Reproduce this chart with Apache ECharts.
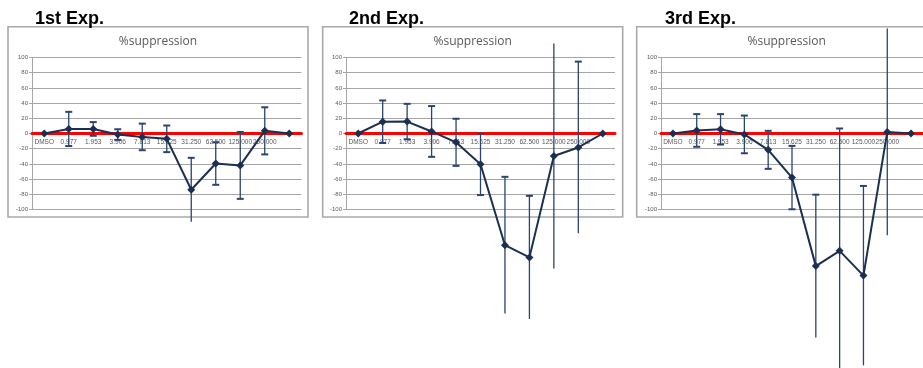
<!DOCTYPE html>
<html>
<head>
<meta charset="utf-8">
<script src="https://cdn.jsdelivr.net/npm/echarts@6/dist/echarts.min.js"></script>
<style>
  html, body { margin: 0; padding: 0; background: #ffffff; }
  #chart { width: 923px; height: 368px; }
</style>
</head>
<body>
<div id="chart"></div>
<script>
// Concentration categories (last slot is an unlabeled control point)
const categories = ['DMSO', '0.977', '1.953', '3.906', '7.813', '15.625', '31.250', '62.500', '125.000', '250.000', ''];

// Y axis ticks
const yTicks = { min: -100, max: 100, step: 20 };

// Panel headings
const expTitles = ['1st Exp.', '2nd Exp.', '3rd Exp.'];
const chartTitle = '%suppression';

// Mean % suppression and symmetric error for each experiment
const exp1Mean = [0, 6, 6, -1.4, -4.5, -7, -74, -39.5, -42, 3.5, 0];
const exp1Err  = [0, 22.5, 9, 7, 17.5, 17.5, 42, 28, 44, 31, 0];

const exp2Mean = [0, 15.5, 15.7, 2.7, -11.6, -40.5, -147, -163, -29.6, -18.4, 0];
const exp2Err  = [0, 28, 23.3, 33.4, 31, 40.5, 90, 81, 148, 113, 0];

const exp3Mean = [0, 4, 5.5, -1.2, -21.5, -58, -174.5, -154.4, -187, 2.1, 0];
const exp3Err  = [0, 21.5, 20, 24.8, 25, 41.7, 94, 161, 118, 136, 0];

const experiments = [
  { mean: exp1Mean, err: exp1Err },
  { mean: exp2Mean, err: exp2Err },
  { mean: exp3Mean, err: exp3Err }
];

// Layout of the three panels (frame box and plot area)
const panels = [
  { boxX: 8,     boxW: 300, gridLeft: 32,  gridW: 269.5, headX: 35 },
  { boxX: 322.7, boxW: 300, gridLeft: 346, gridW: 269,   headX: 349 },
  { boxX: 636.7, boxW: 300, gridLeft: 661, gridW: 266,   headX: 665 }
];
const boxTop = 26.7, boxH = 190.3;
const gridTop = 57.5, gridH = 152;

const lineColor = '#1a2f52';
const errColor = '#2a4470';
const textGray = '#595959';

const grids = [], xAxes = [], yAxes = [], series = [], graphics = [];

panels.forEach((p, i) => {
  graphics.push({
    type: 'rect',
    shape: { x: p.boxX, y: boxTop, width: p.boxW, height: boxH },
    style: { fill: '#ffffff', stroke: '#a9a9a9', lineWidth: 1.6 },
    z: -10
  });
  graphics.push({
    type: 'text',
    style: {
      text: expTitles[i], x: p.headX, y: 19,
      textVerticalAlign: 'middle',
      font: 'bold 18px "Liberation Sans", Arial, sans-serif',
      fill: '#000000'
    }
  });
  graphics.push({
    type: 'text',
    style: {
      text: chartTitle, x: p.boxX + p.boxW / 2, y: 42,
      textAlign: 'center', textVerticalAlign: 'middle',
      font: '12px "Open Sans", sans-serif',
      fill: textGray
    }
  });

  grids.push({ left: p.gridLeft, top: gridTop, width: p.gridW, height: gridH, containLabel: false });

  // the category axis sits on the zero line, which is the middle of the symmetric range
  xAxes.push({
    type: 'category',
    gridIndex: i,
    data: categories,
    boundaryGap: true,
    position: 'bottom',
    offset: -gridH / 2,
    axisLine: { onZero: false, lineStyle: { color: '#ff0000', width: 3 } },
    axisTick: { show: false },
    axisLabel: { color: textGray, fontSize: 6.5, margin: 5, interval: 0, fontFamily: '"Liberation Sans", Arial, sans-serif' },
    splitLine: { show: false },
    z: 1
  });

  yAxes.push({
    type: 'value',
    gridIndex: i,
    min: yTicks.min, max: yTicks.max, interval: yTicks.step,
    axisLine: { show: true, lineStyle: { color: '#a6a6a6', width: 1 } },
    axisTick: { show: true, length: 3, lineStyle: { color: '#a6a6a6' } },
    axisLabel: { color: textGray, fontSize: 6, margin: 4, fontFamily: '"Liberation Sans", Arial, sans-serif' },
    splitLine: { show: true, lineStyle: { color: '#a6a6a6', width: 1 } }
  });

  const exp = experiments[i];
  const errData = exp.mean.map((m, k) => [k, m - exp.err[k], m + exp.err[k], exp.err[k]]);

  series.push({
    type: 'custom',
    xAxisIndex: i,
    yAxisIndex: i,
    clip: false,
    z: 3,
    silent: true,
    data: errData,
    encode: { x: 0, y: [1, 2] },
    renderItem: function (params, api) {
      const e = api.value(3);
      if (!e) return null;
      const k = api.value(0);
      const lo = api.value(1), hi = api.value(2);
      const pLo = api.coord([k, lo]);
      const pHi = api.coord([k, hi]);
      const capW = 3.5;
      const style = { stroke: errColor, lineWidth: 1.3 };
      const children = [{
        type: 'line',
        shape: { x1: pHi[0], y1: pHi[1], x2: pLo[0], y2: pLo[1] },
        style: style
      }];
      // caps are only drawn when the bar end lies inside the axis range
      if (hi <= yTicks.max && hi >= yTicks.min) {
        children.push({ type: 'line', shape: { x1: pHi[0] - capW, y1: pHi[1], x2: pHi[0] + capW, y2: pHi[1] }, style: { stroke: errColor, lineWidth: 2 } });
      }
      if (lo >= yTicks.min && lo <= yTicks.max) {
        children.push({ type: 'line', shape: { x1: pLo[0] - capW, y1: pLo[1], x2: pLo[0] + capW, y2: pLo[1] }, style: { stroke: errColor, lineWidth: 2 } });
      }
      return { type: 'group', children: children };
    }
  });

  series.push({
    type: 'line',
    xAxisIndex: i,
    yAxisIndex: i,
    data: exp.mean,
    clip: false,
    z: 4,
    symbol: 'diamond',
    symbolSize: 8,
    showAllSymbol: true,
    lineStyle: { color: lineColor, width: 2 },
    itemStyle: { color: lineColor },
    silent: true,
    animation: false
  });
});

const chart = echarts.init(document.getElementById('chart'), null, { renderer: 'canvas' });
chart.setOption({
  animation: false,
  backgroundColor: '#ffffff',
  graphic: { elements: graphics },
  grid: grids,
  xAxis: xAxes,
  yAxis: yAxes,
  series: series
});
</script>
</body>
</html>
